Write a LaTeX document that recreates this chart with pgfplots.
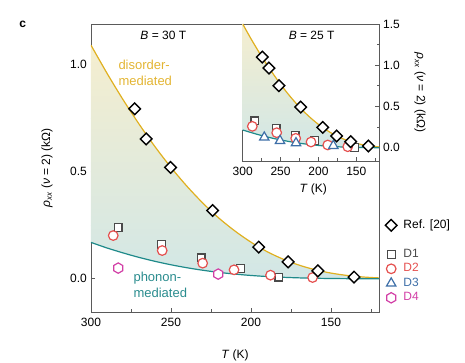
\documentclass[border=0pt,12pt]{standalone}
\usepackage{pgfplots}
\pgfplotsset{compat=1.18}
\usepackage{fontspec}
\setmainfont{Liberation Sans}

\definecolor{gold}{HTML}{E0B020}
\definecolor{goldtxt}{HTML}{E3B533}
\definecolor{teal2}{HTML}{1F8A8A}
\definecolor{tealtxt}{HTML}{2A8C8E}
\definecolor{d1c}{HTML}{4A4A4A}
\definecolor{d2c}{HTML}{E5504F}
\definecolor{d3c}{HTML}{3E6FA8}
\definecolor{d4c}{HTML}{D23FA6}
\definecolor{filltop}{HTML}{F5EECF}
\definecolor{fillbot}{HTML}{D2E7E6}
\definecolor{axc}{HTML}{5A5A5A}

\pgfdeclareplotmark{hexagon}{%
  \pgfpathmoveto{\pgfqpointpolar{90}{\pgfplotmarksize}}%
  \pgfpathlineto{\pgfqpointpolar{150}{\pgfplotmarksize}}%
  \pgfpathlineto{\pgfqpointpolar{210}{\pgfplotmarksize}}%
  \pgfpathlineto{\pgfqpointpolar{270}{\pgfplotmarksize}}%
  \pgfpathlineto{\pgfqpointpolar{330}{\pgfplotmarksize}}%
  \pgfpathlineto{\pgfqpointpolar{30}{\pgfplotmarksize}}%
  \pgfpathclose
  \pgfusepathqfillstroke}

\pgfplotsset{
  refstyle/.style={only marks, mark=square*, mark size=4.1pt, mark options={rotate=45, fill=white, draw=black, line width=1.4pt}},
  d1style/.style={only marks, mark=square*, mark size=3.9pt, mark options={fill=white, draw=d1c, line width=1.2pt}},
  d2style/.style={only marks, mark=*, mark size=4.8pt, mark options={fill=white, draw=d2c, line width=1.2pt}},
  d3style/.style={only marks, mark=triangle*, mark size=5.4pt, mark options={fill=white, draw=d3c, line width=1.2pt}},
  d4style/.style={only marks, mark=hexagon, mark size=5.2pt, mark options={fill=white, draw=d4c, line width=1.2pt}},
  myticks/.style={
    tick align=inside,
    major tick length=4pt, minor tick length=2.5pt,
    axis line style={axc, line width=0.8pt},
    every tick/.style={axc, line width=0.8pt},
    /pgf/number format/assume math mode=true,
    yticklabel style={/pgf/number format/.cd, fixed, fixed zerofill, precision=1},
    xticklabel style={yshift=-1.5pt},
  },
}

\begin{document}
\begin{tikzpicture}
\path[use as bounding box] (0,0) rectangle (465pt,363pt);
\node[font=\bfseries] at (22.7pt,339pt) {c};

% ---------------- main axis (B = 30 T) ----------------
\begin{axis}[
  at={(91pt,51pt)}, anchor=south west,
  width=288pt, height=288pt, scale only axis,
  xmin=120, xmax=300, x dir=reverse,
  ymin=-0.155, ymax=1.19,
  xtick={300,250,200,150}, minor xtick={275,225,175,125},
  ytick={0,0.5,1.0}, minor ytick={0.25,0.75},
  xtick pos=bottom, ytick pos=left,
  myticks,
  xlabel={\textit{T} (K)},
  ylabel={\textit{ρ}\textsubscript{\textit{xx}} (\textit{ν} = 2) (kΩ)},
  every axis x label/.style={at={(axis description cs:0.5,-0.15)}, anchor=center},
  every axis y label/.style={at={(axis description cs:-0.153,0.5)}, rotate=90, anchor=center},
  legend image code/.code={\draw[mark repeat=2,mark phase=2,#1] plot coordinates {(0pt,0pt)(6pt,0pt)(12pt,0pt)};},
  legend style={at={(axis description cs:1.0,0.326)}, anchor=north west, xshift=6pt,
    draw=none, fill=none, inner sep=0pt, row sep=0.5pt,
    /tikz/every odd column/.append style={column sep=5pt},
    nodes={text height=8.5pt, text depth=2.5pt, inner sep=1.5pt}},
  legend cell align=left,
]
% shaded region between the two curves (upper curve, then lower curve back)
\addplot[top color=filltop, bottom color=fillbot, draw=none, forget plot] coordinates {
 (300,1.091) (290,0.960) (280,0.837) (270,0.723) (260,0.617) (250,0.520)
 (240,0.432) (230,0.353) (220,0.283) (210,0.223) (200,0.171) (190,0.127)
 (180,0.092) (170,0.064) (160,0.0425) (150,0.0267) (140,0.0157) (130,0.0085) (120,0.0042)
 (120,0.0001) (130,0.0003) (140,0.0007) (150,0.0014) (160,0.0026) (170,0.0044) (180,0.0071)
 (190,0.0107) (200,0.0156) (210,0.0220) (220,0.0299) (230,0.0398) (240,0.0516)
 (250,0.0655) (260,0.0816) (270,0.100) (280,0.121) (290,0.144) (300,0.170)} -- cycle;
\addplot[gold, line width=1.2pt, smooth, forget plot] coordinates {
 (300,1.091) (290,0.960) (280,0.837) (270,0.723) (260,0.617) (250,0.520)
 (240,0.432) (230,0.353) (220,0.283) (210,0.223) (200,0.171) (190,0.127)
 (180,0.092) (170,0.064) (160,0.0425) (150,0.0267) (140,0.0157) (130,0.0085) (120,0.0042)};
\addplot[teal2, line width=1.2pt, smooth, forget plot] coordinates {
 (300,0.170) (290,0.144) (280,0.121) (270,0.100) (260,0.0816) (250,0.0655)
 (240,0.0516) (230,0.0398) (220,0.0299) (210,0.0220) (200,0.0156) (190,0.0107)
 (180,0.0071) (170,0.0044) (160,0.0026) (150,0.0014) (140,0.0007) (130,0.0003) (120,0.0001)};

\addplot[d1style, forget plot] coordinates {(283,0.24) (256,0.162) (231.2,0.098) (206.4,0.048) (182.6,0.008)};
\addplot[d2style, forget plot] coordinates {(286.1,0.202) (255.5,0.132) (230.2,0.073) (210.6,0.042) (187.8,0.017) (161.5,0.006)};
\addplot[d4style, forget plot] coordinates {(283,0.05) (220.5,0.022)};
\addplot[refstyle, forget plot] coordinates {(272.7,0.794) (265.5,0.653) (250.3,0.52) (224,0.319) (195.2,0.148) (176.8,0.079) (158.2,0.037) (135.6,0.008)};

\addlegendimage{refstyle}
\addlegendentry{Ref. [20]}
\addlegendimage{empty legend}
\addlegendentry{}
\addlegendimage{d1style}
\addlegendentry{\textcolor{d1c}{D1}}
\addlegendimage{d2style}
\addlegendentry{\textcolor{d2c}{D2}}
\addlegendimage{d3style}
\addlegendentry{\textcolor{d3c}{D3}}
\addlegendimage{d4style}
\addlegendentry{\textcolor{d4c}{D4}}

\node at (rel axis cs:0.251,0.962) {\textit{B} = 30 T};
\node[anchor=west, align=left, text=goldtxt, inner sep=0pt, font=\fontsize{13}{16}\selectfont] at (rel axis cs:0.0948,0.83) {disorder-\\mediated};
\node[anchor=west, align=left, text=tealtxt, inner sep=0pt, font=\fontsize{13}{16}\selectfont] at (rel axis cs:0.147,0.094) {phonon-\\mediated};
\end{axis}

% ---------------- inset (B = 25 T) ----------------
\begin{axis}[
  at={(242.7pt,202pt)}, anchor=south west,
  width=136.3pt, height=137pt, scale only axis,
  axis background/.style={fill=white},
  xmin=120, xmax=300, x dir=reverse,
  ymin=-0.161, ymax=1.5,
  xtick={300,250,200,150}, minor xtick={275,225,175,125},
  ytick={0,0.5,1.0,1.5}, minor ytick={0.25,0.75,1.25},
  xtick pos=bottom, ytick pos=right, yticklabel pos=right,
  myticks,
  xlabel={\textit{T} (K)},
  ylabel={\textit{ρ}\textsubscript{\textit{xx}} (\textit{ν} = 2) (kΩ)},
  every axis x label/.style={at={(axis description cs:0.518,-0.205)}, anchor=center},
  every axis y label/.style={at={(axis description cs:1.30,0.5)}, rotate=-90, anchor=center},
]
\addplot[top color=filltop, bottom color=fillbot, draw=none] coordinates {
 (300,1.50) (290,1.336) (280,1.181) (270,1.034) (260,0.898) (250,0.769)
 (240,0.651) (230,0.543) (220,0.445) (210,0.359) (200,0.283) (190,0.218)
 (180,0.162) (170,0.117) (160,0.0805) (150,0.0535) (140,0.0332) (130,0.0192) (120,0.0101)
 (120,0.0005) (130,0.0010) (140,0.0020) (150,0.0036) (160,0.0060) (170,0.0094) (180,0.0140)
 (190,0.0200) (200,0.0277) (210,0.0371) (220,0.0484) (230,0.0617) (240,0.0772)
 (250,0.0947) (260,0.114) (270,0.136) (280,0.160) (290,0.187) (300,0.215)} -- cycle;
\addplot[gold, line width=1.2pt, smooth] coordinates {
 (300,1.50) (290,1.336) (280,1.181) (270,1.034) (260,0.898) (250,0.769)
 (240,0.651) (230,0.543) (220,0.445) (210,0.359) (200,0.283) (190,0.218)
 (180,0.162) (170,0.117) (160,0.0805) (150,0.0535) (140,0.0332) (130,0.0192) (120,0.0101)};
\addplot[teal2, line width=1.2pt, smooth] coordinates {
 (300,0.215) (290,0.187) (280,0.160) (270,0.136) (260,0.114) (250,0.0947)
 (240,0.0772) (230,0.0617) (220,0.0484) (210,0.0371) (200,0.0277) (190,0.0200)
 (180,0.0140) (170,0.0094) (160,0.0060) (150,0.0036) (140,0.0020) (130,0.0010) (120,0.0005)};

\addplot[d1style] coordinates {(283.8,0.324) (256,0.23) (230.9,0.15) (205.4,0.085) (152.6,0.0)};
\addplot[d2style] coordinates {(287.3,0.259) (255.1,0.182) (230,0.114) (209.8,0.069) (187.7,0.033) (161.3,0.012)};
\addplot[d3style] coordinates {(271.5,0.126) (250.7,0.085) (229.6,0.057) (180.3,0.024)};
\addplot[refstyle] coordinates {(274.1,1.099) (265.3,0.966) (252.1,0.752) (223.4,0.493) (194.3,0.247) (175.9,0.142) (157.4,0.073) (134.1,0.021)};

\node at (rel axis cs:0.506,0.92) {\textit{B} = 25 T};
\end{axis}
\end{tikzpicture}
\end{document}
